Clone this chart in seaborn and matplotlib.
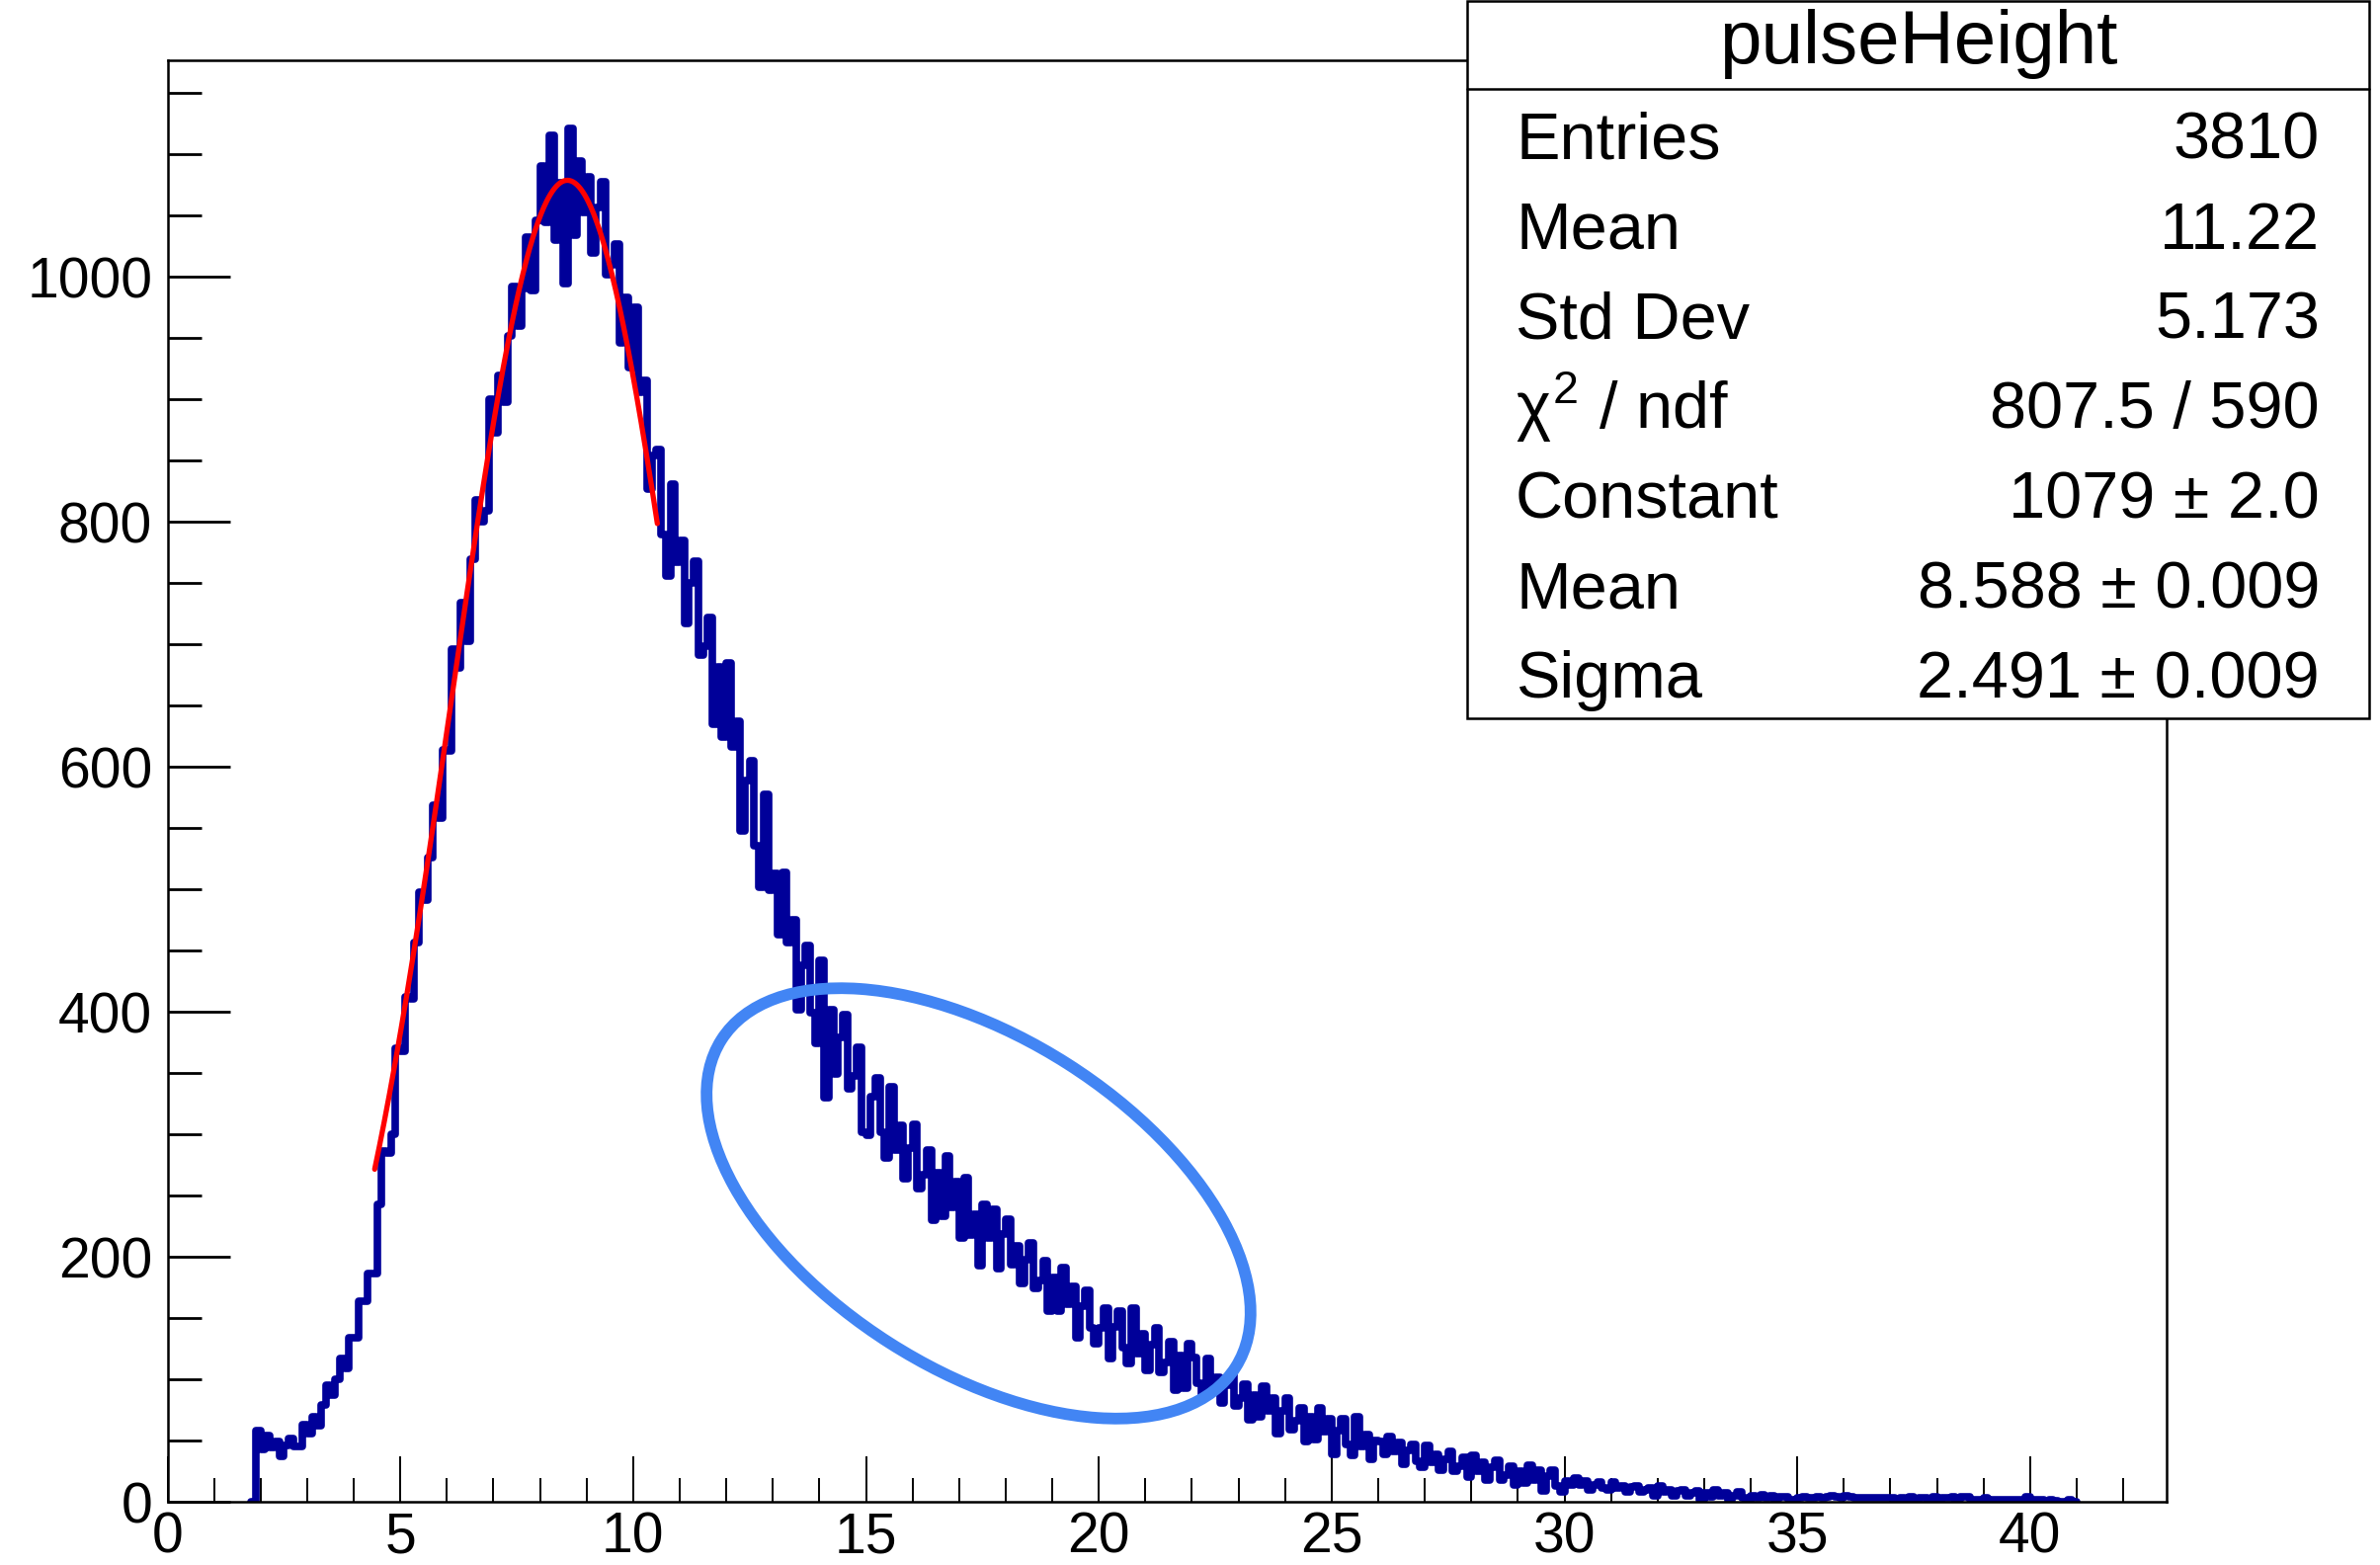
import numpy as np
import pandas as pd
import matplotlib
matplotlib.use("Agg")
import matplotlib.pyplot as plt
import seaborn as sns
from matplotlib.patches import Ellipse, Rectangle
from matplotlib.lines import Line2D
from matplotlib.ticker import MultipleLocator

# histogram bins: width 0.1, first filled bin starts at 1.9
hist_start = 1.9
bin_width = 0.1

# 1.9 - 5.9
counts_rise = [58, 43, 54, 44, 49, 37, 46, 52, 45, 45, 63,
               56, 69, 62, 79, 95, 87, 100, 117, 109, 134, 134, 164, 164, 186, 186,
               243, 286, 285, 300, 370, 368, 412, 411, 457, 498, 491, 526, 569, 558, 614]
# 6.0 - 10.9
counts_peak = [613, 696, 681, 734, 703, 770, 818, 800, 809, 900, 873, 920, 898, 952, 992, 960, 991, 1033, 989, 1046,
               1091, 1045, 1116, 1030, 1077, 995, 1121, 1034, 1095, 1053, 1082, 1020, 1057, 1078, 1002, 1010,
               1027, 946, 983, 926, 975, 906, 916, 827, 854, 859, 790, 756, 831, 767]
# 11.0 - 17.9
counts_fall = [785, 717, 750, 768, 691, 699, 722, 635, 682, 624, 685, 616, 637, 548, 589, 605, 536, 502, 578, 499,
               513, 463, 514, 457, 475, 402, 438, 454, 399, 374, 442, 330, 402, 349, 379, 398, 337, 348, 371, 302,
               299, 331, 346, 302, 281, 339, 287, 307, 264, 289, 308, 256, 267, 287, 230, 269, 233, 282, 240, 261,
               215, 265, 218, 235, 193, 243, 215, 239, 190, 219]
# 18.0 - 29.9
counts_tail = [231, 194, 209, 178, 198, 211, 174, 181, 197, 156, 183, 156, 191, 161, 176, 134, 160, 173, 142, 129,
               142, 158, 117, 143, 156, 126, 113, 158, 121, 137, 107, 128, 142, 106, 114, 131, 91, 119, 93, 129,
               118, 97, 87, 117, 92, 102, 81, 95, 104, 78, 85, 96, 67, 87, 69, 94, 74, 85, 56, 74,
               85, 59, 66, 77, 49, 69, 51, 77, 57, 68, 39, 58, 68, 47, 38, 69, 45, 55, 35, 50,
               49, 39, 53, 41, 48, 31, 42, 47, 33, 28, 46, 32, 39, 26, 35, 41, 25, 29, 36, 20,
               38, 25, 32, 18, 28, 34, 18, 22, 29, 14, 25, 15, 30, 18, 26, 9, 21, 26, 13, 8]
# 30.0 - 40.9
counts_far = [17, 14, 19, 14, 17, 10, 14, 16, 11, 10, 16, 11, 13, 8, 12, 13, 8, 10, 11, 5,
              13, 8, 10, 5, 9, 10, 5, 7, 9, 2, 7, 4, 10, 5, 7, 1, 5, 8, 3, 2,
              5, 3, 6, 3, 5, 2, 4, 4, 2, 2,
              3, 4, 3, 3, 4, 3, 4, 5, 4, 3, 5, 4, 3, 3, 3, 3, 3, 3, 3, 3,
              3, 2, 3, 2, 4, 2, 3, 3, 2, 4, 2, 3, 3, 4, 2, 4, 4, 2, 2, 2,
              3, 2, 2, 2, 2, 2, 2, 2, 2, 4, 2, 2, 2, 1, 2, 1, 0, 0, 2, 0]

# gaussian fit result (from the stats box)
fit_constant = 1079.0
fit_mean = 8.588
fit_sigma = 2.491
fit_range = (4.45, 10.52)

stats_title = "pulseHeight"
stats_labels = ["Entries", "Mean", "Std Dev", r"$\chi^{2}$ / ndf", "Constant", "Mean", "Sigma"]
stats_values = ["3810", "11.22", "5.173", "807.5 / 590", "1079 \u00b1 2.0",
                "8.588 \u00b1 0.009", "2.491 \u00b1 0.009"]

x_limits = (0, 42.93)
y_limits = (0, 1177)

sns.set_style("ticks")
plt.rcParams["font.family"] = ["Liberation Sans", "DejaVu Sans"]
plt.rcParams.update({
    "mathtext.fontset": "custom",
    "mathtext.rm": "Liberation Sans",
    "mathtext.it": "Liberation Sans",
    "mathtext.bf": "Liberation Sans:bold",
    "text.color": "black",
    "xtick.color": "black",
    "ytick.color": "black",
    "axes.edgecolor": "black",
})

W, H = 2409, 1584
fig = plt.figure(figsize=(W / 100, H / 100), dpi=100)
fig.patch.set_facecolor("white")
ax = fig.add_axes([169.5 / W, 1 - 1520 / H, (2193 - 169.5) / W, (1520 - 61) / H])

counts = np.array(counts_rise + counts_peak + counts_fall + counts_tail + counts_far, dtype=float)
# empty bin in front so the step rises from the axis like ROOT draws it
counts = np.concatenate([[0.0], counts])
edges = hist_start - bin_width + bin_width * np.arange(len(counts) + 1)
df = pd.DataFrame({"x": edges[:-1] + bin_width / 2, "w": counts})

# thick step line so the jittery bins merge into a solid band like the ROOT render
sns.histplot(data=df, x="x", weights="w", bins=list(edges), element="step", fill=False,
             color="#000099", linewidth=5.5, ax=ax)

xf = np.linspace(fit_range[0], fit_range[1], 300)
yf = fit_constant * np.exp(-0.5 * ((xf - fit_mean) / fit_sigma) ** 2)
sns.lineplot(x=xf, y=yf, color="red", linewidth=3.8, ax=ax)

ax.set_xlabel("")
ax.set_ylabel("")
ax.set_xlim(*x_limits)
ax.set_ylim(*y_limits)
ax.xaxis.set_major_locator(MultipleLocator(5))
ax.xaxis.set_minor_locator(MultipleLocator(1))
ax.yaxis.set_major_locator(MultipleLocator(200))
ax.yaxis.set_minor_locator(MultipleLocator(50))
ax.tick_params(axis="both", which="both", direction="in", bottom=True, left=True,
               top=False, right=False, labelsize=41)
ax.tick_params(axis="x", which="major", length=33, width=1.4, pad=6.5)
ax.tick_params(axis="x", which="minor", length=17, width=1.4)
ax.tick_params(axis="y", which="major", length=45, width=2.0, pad=11)
ax.tick_params(axis="y", which="minor", length=24.5, width=2.0)
for sp in ax.spines.values():
    sp.set_linewidth(1.8)
    sp.set_color("black")
    sp.set_visible(True)
    sp.set_zorder(4)

# hand drawn highlight ring
ring = Ellipse((990.5 / 100, (H - 1218) / 100), 6.17, 3.35, angle=-32.5,
               transform=fig.dpi_scale_trans, fill=False, edgecolor="#4285f4", lw=8.5, zorder=5)
fig.add_artist(ring)

# stats box
box_l, box_r = 1485.5 / W, 2398 / W
box_top, box_sep, box_bot = 1 - 1 / H, 1 - 89.7 / H, 1 - 727 / H
fig.add_artist(Rectangle((box_l, box_bot), box_r - box_l, box_top - box_bot,
                         transform=fig.transFigure, facecolor="white", edgecolor="black",
                         lw=1.8, zorder=10))
fig.add_artist(Line2D([box_l, box_r], [box_sep, box_sep], transform=fig.transFigure,
                      color="black", lw=1.8, zorder=11))
fig.text((box_l + box_r) / 2, 1 - 63.7 / H, stats_title, ha="center", va="baseline",
         fontsize=55, zorder=12)
for i, (lab, val) in enumerate(zip(stats_labels, stats_values)):
    yb = 1 - (160.5 + 91 * i) / H
    fig.text(1534 / W, yb, lab, ha="left", va="baseline", fontsize=48, zorder=12)
    fig.text(2348 / W, yb, val, ha="right", va="baseline", fontsize=48, zorder=12)

fig.savefig("out.png", dpi=100)
